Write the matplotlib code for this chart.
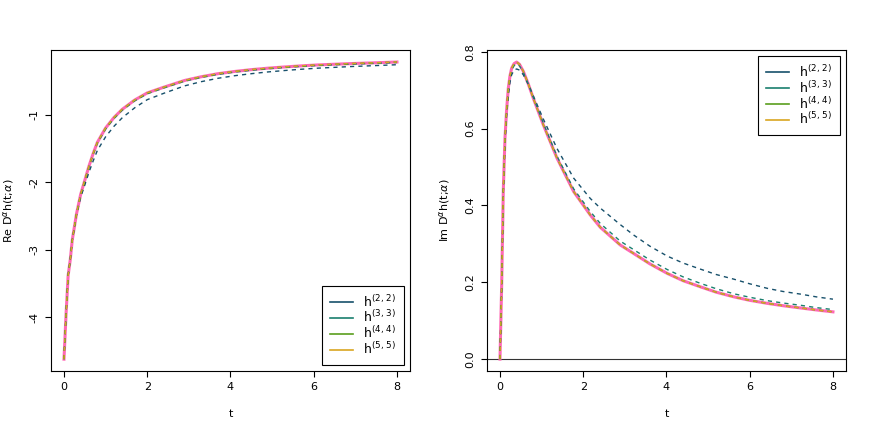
import matplotlib
matplotlib.use("Agg")
import matplotlib.pyplot as plt
from matplotlib.lines import Line2D

# values
t_re = [0, 0.05, 0.1, 0.15, 0.2, 0.3, 0.4, 0.5, 0.6, 0.7, 0.8, 1.0, 1.2, 1.4,
        1.7, 2.0, 2.4, 2.9, 3.3, 3.7, 4.1, 4.5, 4.9, 5.3, 5.7, 6.1, 6.5, 6.9, 7.4, 8.0]
re_exact = [-4.62, -3.95, -3.38, -3.15, -2.85, -2.47, -2.18, -1.97, -1.76, -1.575, -1.41,
            -1.195, -1.04, -0.918, -0.78, -0.675, -0.59, -0.49, -0.435, -0.39, -0.357,
            -0.33, -0.308, -0.29, -0.274, -0.26, -0.25, -0.24, -0.23, -0.217]
re_h22 = [-4.62, -3.95, -3.38, -3.15, -2.86, -2.49, -2.22, -2.04, -1.85, -1.685, -1.53,
          -1.325, -1.17, -1.043, -0.895, -0.775, -0.68, -0.57, -0.508, -0.458, -0.42,
          -0.39, -0.364, -0.343, -0.324, -0.308, -0.296, -0.284, -0.272, -0.257]
re_h33 = [-4.62, -3.95, -3.38, -3.15, -2.85, -2.47, -2.185, -1.978, -1.77, -1.587, -1.423,
          -1.21, -1.054, -0.931, -0.792, -0.687, -0.601, -0.5, -0.445, -0.4, -0.366,
          -0.339, -0.317, -0.298, -0.282, -0.268, -0.258, -0.248, -0.238, -0.225]
re_h44 = list(re_exact)
re_h55 = list(re_exact)

t_im = [0, 0.04, 0.08, 0.12, 0.16, 0.2, 0.24, 0.28, 0.34, 0.4, 0.47, 0.56, 0.68, 0.8,
        1.04, 1.37, 1.77, 2.17, 2.41, 2.89, 3.21, 3.6, 4.02, 4.4, 4.82, 5.2, 5.62,
        6.0, 6.43, 6.8, 7.23, 7.6, 8.0]
im_exact = [0, 0.19, 0.44, 0.575, 0.65, 0.705, 0.737, 0.757, 0.769, 0.773, 0.767, 0.749,
            0.716, 0.679, 0.61, 0.523, 0.436, 0.375, 0.343, 0.297, 0.275, 0.248, 0.223,
            0.204, 0.188, 0.174, 0.162, 0.153, 0.145, 0.139, 0.133, 0.128, 0.123]
im_h22 = [0, 0.18, 0.43, 0.56, 0.635, 0.685, 0.72, 0.74, 0.752, 0.755, 0.752, 0.74,
          0.715, 0.685, 0.625, 0.548, 0.471, 0.418, 0.393, 0.35, 0.323, 0.294, 0.268,
          0.25, 0.234, 0.22, 0.208, 0.196, 0.184, 0.176, 0.169, 0.162, 0.156]
im_h33 = [0, 0.188, 0.438, 0.572, 0.647, 0.701, 0.733, 0.752, 0.764, 0.768, 0.763, 0.747,
          0.716, 0.681, 0.614, 0.528, 0.443, 0.384, 0.353, 0.307, 0.285, 0.258, 0.233,
          0.214, 0.197, 0.183, 0.17, 0.161, 0.152, 0.146, 0.14, 0.134, 0.129]
im_h44 = list(im_exact)
im_h55 = list(im_exact)

labels = [r"h$^{(2,\,2)}$", r"h$^{(3,\,3)}$", r"h$^{(4,\,4)}$", r"h$^{(5,\,5)}$"]
colors = ["#17506b", "#1a7f6e", "#5a9e1e", "#d9a520"]
exact_color = "#ff69b4"

fig = plt.figure(figsize=(8.72, 4.36), dpi=100)
ax1 = fig.add_axes([0.0581, 0.149, 0.4124, 0.736])
ax2 = fig.add_axes([0.5581, 0.149, 0.4124, 0.736])


def style(ax, yticks, yticklabels, ylim, ylabel):
    ax.set_xlim(-0.32, 8.32)
    ax.set_ylim(*ylim)
    ax.set_xticks([0, 2, 4, 6, 8])
    ax.set_xticklabels(["0", "2", "4", "6", "8"])
    ax.set_yticks(yticks)
    ax.set_yticklabels(yticklabels, rotation=90, va="center")
    ax.tick_params(direction="out", length=4, width=0.8, labelsize=8, pad=4)
    for s in ax.spines.values():
        s.set_linewidth(0.8)
    ax.set_xlabel("t", fontsize=8, labelpad=12)
    ax.set_ylabel(ylabel, fontsize=8, labelpad=10)


# left: real part
ax1.plot(t_re, re_exact, color=exact_color, lw=2.2)
for ys, c in zip([re_h22, re_h33, re_h44, re_h55], colors):
    ax1.plot(t_re, ys, color=c, lw=1.0, dashes=(3, 3))
style(ax1, [-4, -3, -2, -1], ["-4", "-3", "-2", "-1"], (-4.796, -0.041),
      r"Re D$^{\alpha}$h(t;$\alpha$)")

# right: imaginary part
ax2.axhline(0, color="#333333", lw=0.8)
ax2.plot(t_im, im_exact, color=exact_color, lw=2.2)
for ys, c in zip([im_h22, im_h33, im_h44, im_h55], colors):
    ax2.plot(t_im, ys, color=c, lw=1.0, dashes=(3, 3))
style(ax2, [0, 0.2, 0.4, 0.6, 0.8], ["0.0", "0.2", "0.4", "0.6", "0.8"], (-0.031, 0.804),
      r"Im D$^{\alpha}$h(t;$\alpha$)")

handles = [Line2D([], [], color=c, lw=1.2) for c in colors]
for ax, loc in [(ax1, "lower right"), (ax2, "upper right")]:
    leg = ax.legend(handles, labels, loc=loc, fontsize=9, fancybox=False,
                    framealpha=1, edgecolor="black", handlelength=1.9,
                    handletextpad=0.8, labelspacing=0.0, borderaxespad=0.5,
                    borderpad=0.6)
    leg.get_frame().set_linewidth(0.8)

fig.savefig("out.png", dpi=100)
